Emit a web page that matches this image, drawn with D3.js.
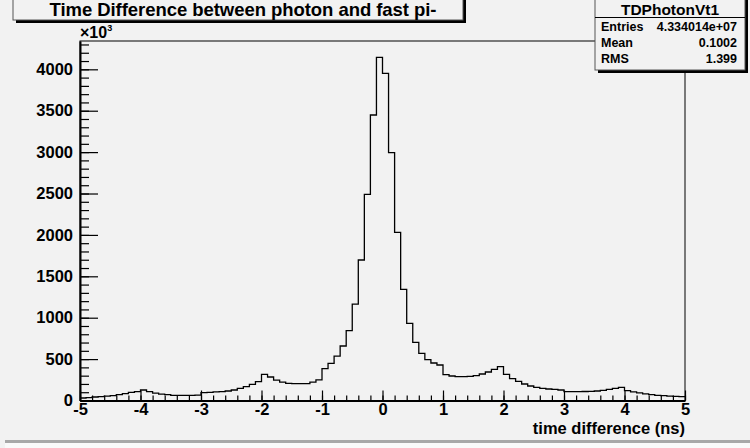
<!DOCTYPE html>
<html>
<head>
<meta charset="utf-8">
<script src="https://cdn.jsdelivr.net/npm/d3@7"></script>
<style>
  html, body { margin: 0; padding: 0; background: #f2f2f2; }
  svg { display: block; font-family: "Liberation Sans", Arial, sans-serif; font-weight: bold; }
</style>
</head>
<body>
<svg width="750" height="448"></svg>
<script>
// histogram TDPhotonVt1: 100 bins from -5 to 5 ns, counts in units of 10^3
const binLow = -5;
const binWidth = 0.1;
const counts = [
  30, 34, 42, 46, 54, 58, 70, 82, 98, 106,
  127, 106, 90, 78, 70, 62, 62, 62, 62, 64,
  95, 99, 103, 107, 115, 127, 147, 167, 195, 227,
  316, 284, 247, 223, 207, 203, 203, 205, 223, 248,
  384, 449, 537, 658, 843, 1165, 1697, 2490, 3448, 4145,
  3952, 2993, 2031, 1343, 932, 703, 570, 493, 453, 429,
  312, 296, 288, 288, 292, 300, 320, 344, 377, 409,
  316, 264, 232, 199, 175, 159, 147, 139, 135, 127,
  107, 107, 107, 109, 111, 115, 123, 135, 147, 159,
  119, 103, 91, 79, 70, 62, 58, 54, 50, 46
];
const xMajor = [-5, -4, -3, -2, -1, 0, 1, 2, 3, 4, 5];
const yMajor = [0, 500, 1000, 1500, 2000, 2500, 3000, 3500, 4000];
const statNames = ["Entries", "Mean", "RMS"];
const statValues = ["4.334014e+07", "0.1002", "1.399"];

const svg = d3.select("svg");
const fLeft = 80, fRight = 685, fTop = 41, fBottom = 400.5;

const x = d3.scaleLinear().domain([-5, 5]).range([fLeft, fRight]);
const y = d3.scaleLinear().domain([0, 4342]).range([fBottom, fTop]);

// canvas bottom bevel
svg.append("rect").attr("x", 5).attr("y", 440).attr("width", 745).attr("height", 3).attr("fill", "#a8a8a8");
svg.append("rect").attr("x", 5).attr("y", 443).attr("width", 745).attr("height", 5).attr("fill", "#fafafa");

// frame
svg.append("rect")
  .attr("x", fLeft).attr("y", fTop)
  .attr("width", fRight - fLeft).attr("height", fBottom - fTop)
  .attr("fill", "none").attr("stroke", "#000").attr("stroke-width", 1);

// histogram outline
const pts = counts.map((c, i) => [binLow + i * binWidth, c]);
pts.push([binLow + counts.length * binWidth, counts[counts.length - 1]]);
const line = d3.line().x(d => x(d[0])).y(d => y(d[1])).curve(d3.curveStepAfter);
svg.append("path").attr("d", line(pts))
  .attr("fill", "none").attr("stroke", "#000").attr("stroke-width", 1.3);

// minor ticks
const xMinor = d3.range(-50, 51, 2).map(v => v / 10);
const yMinor = d3.range(0, 4342, 100);
svg.append("g").attr("transform", `translate(0,${fBottom})`)
  .call(d3.axisBottom(x).tickValues(xMinor).tickSize(-5).tickFormat(""))
  .call(g => g.select(".domain").remove());
svg.append("g").attr("transform", `translate(${fLeft},0)`)
  .call(d3.axisLeft(y).tickValues(yMinor).tickSize(-9).tickFormat(""))
  .call(g => g.select(".domain").remove());

// major ticks + labels
const gx = svg.append("g").attr("transform", `translate(0,${fBottom})`)
  .call(d3.axisBottom(x).tickValues(xMajor).tickSize(-10).tickSizeOuter(0).tickPadding(3).tickFormat(d => String(d)));
const gy = svg.append("g").attr("transform", `translate(${fLeft},0)`)
  .call(d3.axisLeft(y).tickValues(yMajor).tickSize(-18).tickSizeOuter(0).tickPadding(7).tickFormat(d => String(d)));
[gx, gy].forEach(g => {
  g.selectAll("text").attr("font-family", "Liberation Sans, Arial, sans-serif")
    .attr("font-weight", "bold").attr("font-size", 16.5).attr("fill", "#000");
  g.select(".domain").attr("stroke-width", 2);
});
svg.selectAll(".tick line").attr("stroke", "#000").attr("stroke-width", 1.2);

// x10^3
const mult = svg.append("text").attr("x", 80).attr("y", 38).attr("font-size", 16);
mult.append("tspan").text("×10");
mult.append("tspan").attr("font-size", 9).attr("dy", -7).text("3");

// axis title
svg.append("text").attr("x", fRight).attr("y", 434).attr("text-anchor", "end")
  .attr("font-size", 16.5).text("time difference (ns)");

// title box
svg.append("rect").attr("x", 16).attr("y", -2).attr("width", 450).attr("height", 25).attr("fill", "#000");
svg.append("rect").attr("x", 13).attr("y", -2).attr("width", 450).attr("height", 22)
  .attr("fill", "#f2f2f2").attr("stroke", "#555").attr("stroke-width", 1);
svg.append("text").attr("x", 243).attr("y", 15.5).attr("text-anchor", "middle")
  .attr("font-size", 18.5).attr("textLength", 387).attr("lengthAdjust", "spacing")
  .text("Time Difference between photon and fast pi-");

// stats box
svg.append("rect").attr("x", 598).attr("y", -2).attr("width", 150).attr("height", 75).attr("fill", "#000");
svg.append("rect").attr("x", 595).attr("y", -2).attr("width", 150).attr("height", 72)
  .attr("fill", "#f2f2f2").attr("stroke", "#555").attr("stroke-width", 1);
svg.append("line").attr("x1", 595).attr("x2", 745).attr("y1", 17.5).attr("y2", 17.5)
  .attr("stroke", "#000").attr("stroke-width", 1);
svg.append("text").attr("x", 670).attr("y", 14.5).attr("text-anchor", "middle")
  .attr("font-size", 15.5).text("TDPhotonVt1");
statNames.forEach((n, i) => {
  const yy = 30.5 + i * 16;
  svg.append("text").attr("x", 601).attr("y", yy).attr("font-size", 12.5).text(n);
  svg.append("text").attr("x", 737).attr("y", yy).attr("text-anchor", "end")
    .attr("font-size", 12.5).text(statValues[i]);
});
</script>
</body>
</html>
